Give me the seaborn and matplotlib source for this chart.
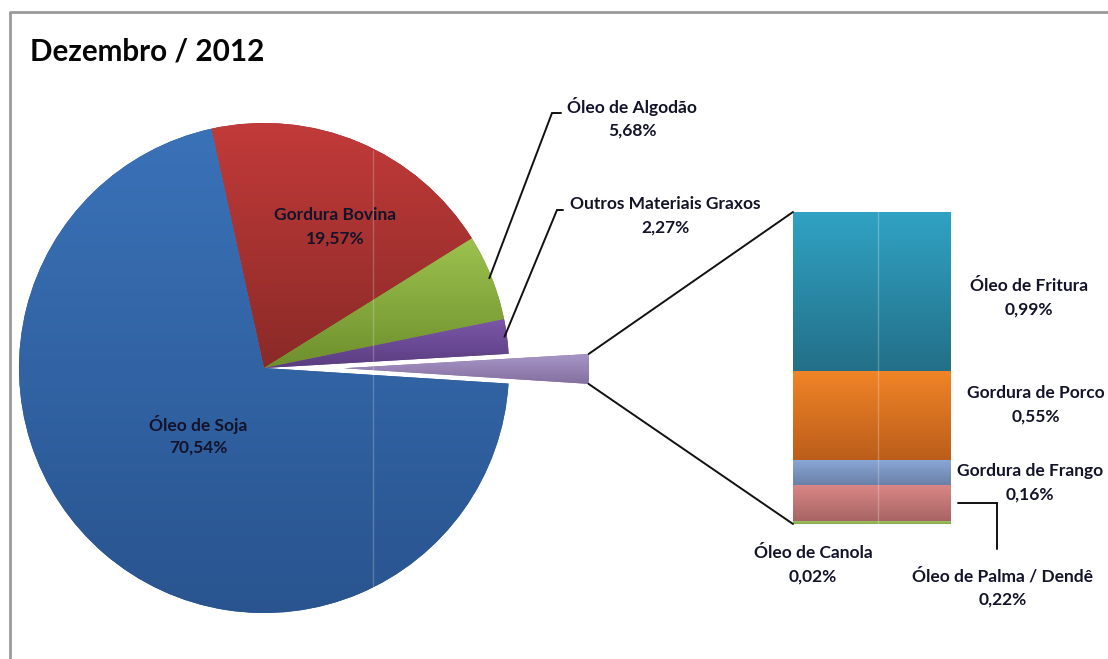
import numpy as np
import matplotlib
matplotlib.use("Agg")
import matplotlib.pyplot as plt
import seaborn as sns
from matplotlib.colors import LinearSegmentedColormap
from matplotlib.patches import ConnectionPatch

# ---- data -------------------------------------------------------------
title = "Dezembro / 2012"

# secondary stack (bottom -> top)
bar_labels = ["Óleo de Canola", "Óleo de Palma / Dendê", "Gordura de Frango",
              "Gordura de Porco", "Óleo de Fritura"]
bar_values = [0.02, 0.22, 0.16, 0.55, 0.99]

# main pie, clockwise from the top; "Demais" is the sum of the stack
pie_labels = ["Gordura Bovina", "Óleo de Algodão", "Outros Materiais Graxos",
              "Demais", "Óleo de Soja"]
pie_values = [19.57, 5.68, 2.27, round(sum(bar_values), 2), 70.54]

# gradient colours (top, bottom)
pie_colors = [("#c33b3a", "#8a2a27"), ("#9dc24e", "#6e8f2d"),
              ("#7b57a8", "#5a3d80"), ("#a896c9", "#84709e"),
              ("#3a72b8", "#29548f")]
bar_colors = [("#a5c964", "#86a84a"), ("#da8786", "#a66463"),
              ("#8ba8d8", "#6a80a8"), ("#f08427", "#bb5d1a"),
              ("#30a3c4", "#236f88")]

TEXT = "#13132a"
W, H = 1108, 659


def fmt(v):
    return f"{v:.2f}".replace(".", ",") + "%"


def P(y):
    """Pixel row (from the top) to data y."""
    return H - y


def gradient(axis, patch, top, bottom):
    verts = patch.get_path().transformed(patch.get_patch_transform()).vertices
    x0, y0 = verts.min(axis=0)
    x1, y1 = verts.max(axis=0)
    cmap = LinearSegmentedColormap.from_list("g", [bottom, top])
    im = axis.imshow(np.linspace(0, 1, 256).reshape(-1, 1), cmap=cmap,
                     extent=(x0, x1, y0, y1), origin="lower", aspect="auto",
                     interpolation="bilinear", zorder=patch.get_zorder() + 0.1)
    im.set_clip_path(patch)


sns.set_theme(style="white")
plt.rcParams["font.family"] = ["Lato", "DejaVu Sans"]

fig = plt.figure(figsize=(W / 100, H / 100), dpi=100)
fig.patch.set_facecolor("white")
ax = fig.add_axes([0, 0, 1, 1])

# ---- main pie ---------------------------------------------------------
explode = [0, 0, 0, 80, 0]
wedges, _ = ax.pie(pie_values, startangle=102.4, counterclock=False,
                   center=(264, P(368)), radius=245, explode=explode,
                   colors=[c[1] for c in pie_colors],
                   wedgeprops=dict(linewidth=0))
ax.set_xlim(0, W)
ax.set_ylim(0, H)
ax.set_axis_off()
for w, (top, bot) in zip(wedges, pie_colors):
    gradient(ax, w, top, bot)

# ---- stacked bar ------------------------------------------------------
bax = fig.add_axes([793 / W, (H - 524) / H, (951 - 793) / W, (524 - 212) / H])
bottoms = np.concatenate([[0], np.cumsum(bar_values)[:-1]])
total = float(np.sum(bar_values))
bars = bax.bar([0] * len(bar_values), bar_values, bottom=bottoms, width=1.0,
               color=[c[1] for c in bar_colors], linewidth=0)
bax.set_xlim(-0.5, 0.5)
bax.set_ylim(0, total)
bax.set_axis_off()
for b, (top, bot) in zip(bars, bar_colors):
    gradient(bax, b, top, bot)

# faint seams across pie and bar
ax.plot([373, 373], [P(150), P(586)], color="white", alpha=0.22, lw=1, zorder=5)
bax.axvline((878 - 793) / (951 - 793) - 0.5, color="white", alpha=0.25, lw=1,
             zorder=5)

# ---- connectors from the exploded slice to the stack ------------------
d = wedges[3]
cx, cy = d.center
for ang, yb in ((max(d.theta1, d.theta2), total), (min(d.theta1, d.theta2), 0)):
    pt = (cx + d.r * np.cos(np.radians(ang)), cy + d.r * np.sin(np.radians(ang)))
    con = ConnectionPatch(xyA=pt, coordsA=ax.transData, xyB=(-0.5, yb),
                          coordsB=bax.transData, color="#111111", lw=1.4)
    fig.add_artist(con)

# ---- leader lines -----------------------------------------------------
def slice_mid(w, frac=1.0):
    a = np.radians(0.5 * (w.theta1 + w.theta2))
    return (w.center[0] + frac * w.r * np.cos(a), w.center[1] + frac * w.r * np.sin(a))

for w, (kx, ky, ex) in ((wedges[1], (552, 113, 561)), (wedges[2], (557, 210, 563))):
    sx, sy = slice_mid(w, 0.99)
    ax.plot([sx, kx, ex], [sy, P(ky), P(ky)], color="#111111", lw=1.4,
            solid_joinstyle="miter", zorder=6)

# Palma leader from the middle of its segment
pm = bottoms[1] + bar_values[1] / 2
disp = bax.transData.transform((0.5, pm))
px, py = ax.transData.inverted().transform(disp)
ax.plot([px + 7, 997, 997], [py, py, P(549)], color="#111111", lw=1.4,
        solid_joinstyle="miter", zorder=6)

# ---- labels -----------------------------------------------------------
LFS = 12.5


def pair(x, y, name, value):
    ax.text(x, P(y - 12), name, ha="center", va="center", fontsize=LFS,
            fontweight="bold", color=TEXT, zorder=10)
    ax.text(x, P(y + 12), fmt(value), ha="center", va="center", fontsize=LFS,
            fontweight="bold", color=TEXT, zorder=10)


pie_pos = {"Gordura Bovina": (335, 227), "Óleo de Algodão": (632, 119),
           "Outros Materiais Graxos": (665, 216), "Óleo de Soja": (198, 436)}
for name, val in zip(pie_labels, pie_values):
    if name in pie_pos:
        pair(*pie_pos[name], name, val)

bar_pos = {"Óleo de Canola": (813, 565), "Óleo de Palma / Dendê": (1003, 588),
           "Gordura de Frango": (1030, 483), "Gordura de Porco": (1036, 405),
           "Óleo de Fritura": (1029, 298)}
for name, val in zip(bar_labels, bar_values):
    pair(*bar_pos[name], name, val)

ax.text(30, P(52), title, ha="left", va="center", fontsize=21.3,
        fontweight="bold", color="#050505")

# chart frame (left and top edges)
ax.plot([10, 10, W + 5], [-5, P(12), P(12)], color="#9a9a9a", lw=2,
        clip_on=False, zorder=1)

fig.savefig("out.png", dpi=100, facecolor="white")
